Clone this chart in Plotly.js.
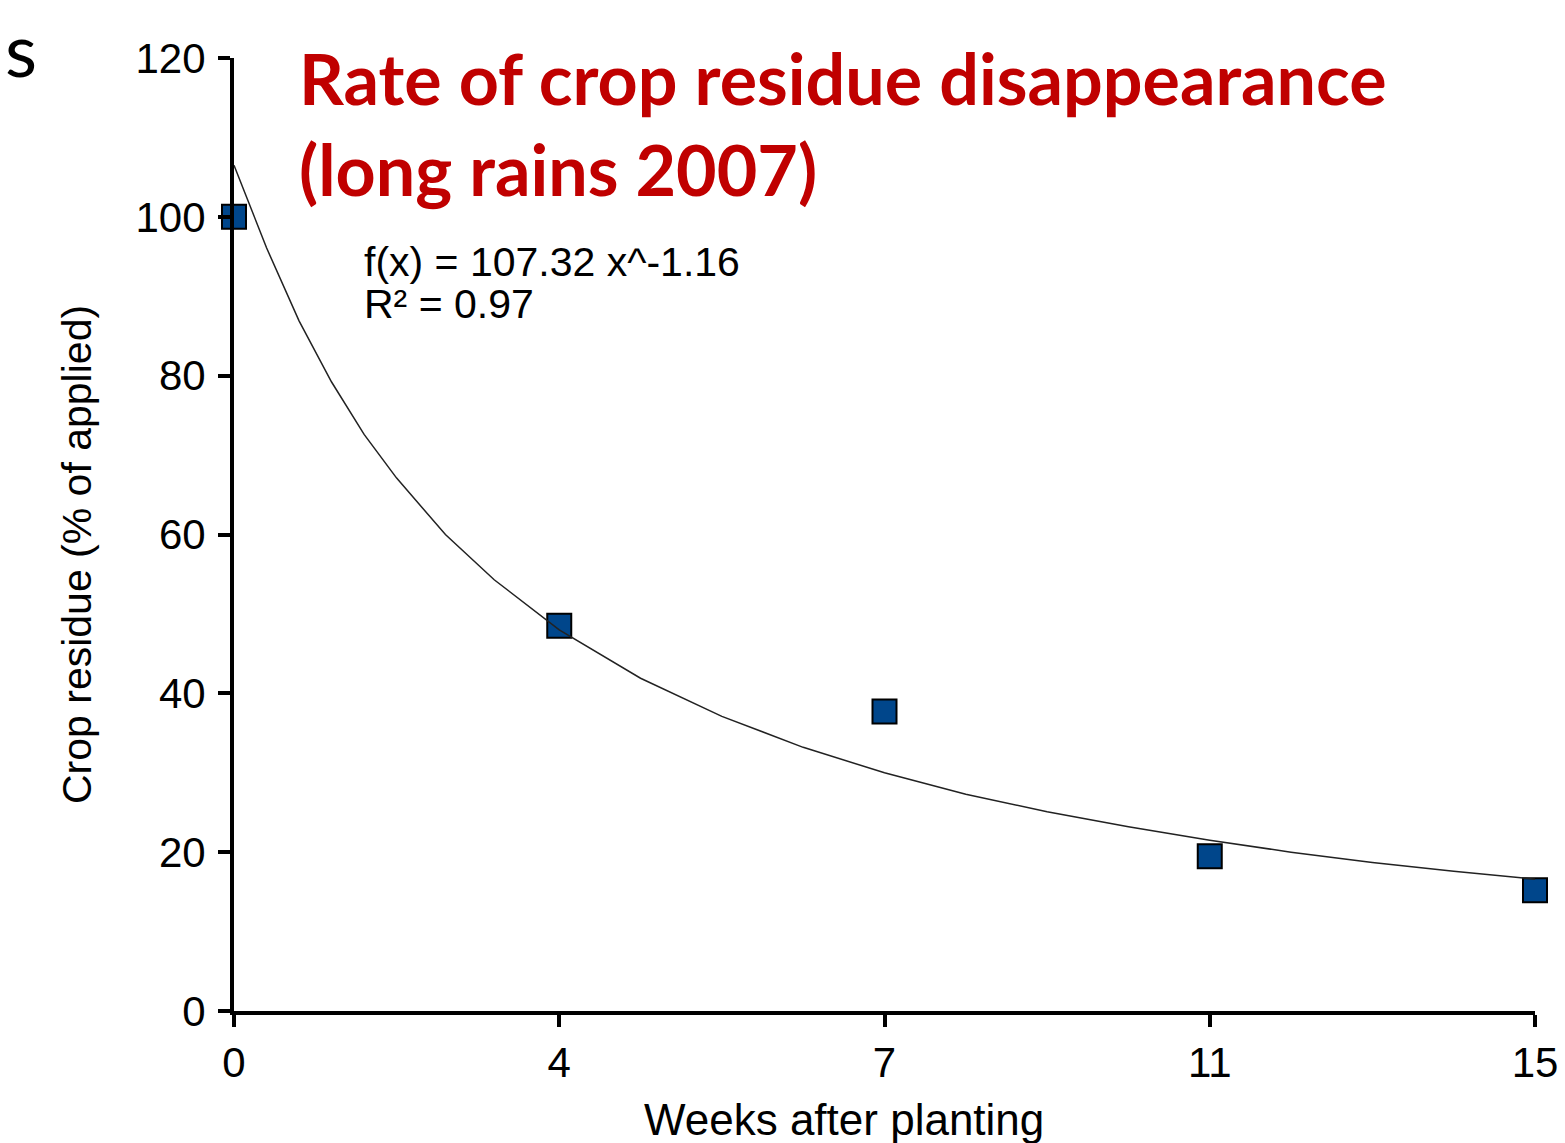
<!DOCTYPE html>
<html>
<head>
<meta charset="utf-8">
<script src="https://cdn.plot.ly/plotly-3.0.1.min.js"></script>
<style>html,body{margin:0;padding:0;background:#fff;}#chart{width:1565px;height:1143px;}</style>
</head>
<body>
<div id="chart"></div>
<script>
// Observed data
const weeks = ['0', '4', '7', '11', '15'];
const weekIndex = [0, 1, 2, 3, 4];
const residue = [100, 48.5, 37.7, 19.5, 15.2];

// Fitted power trend line (positions in category index)
const trendIndex = [0, 0.1, 0.2, 0.3, 0.4, 0.5, 0.65, 0.8, 1.0, 1.25, 1.5, 1.75, 2.0, 2.25, 2.5, 2.75, 3.0, 3.25, 3.5, 3.75, 4.0];
const trendValue = [106.5, 96.1, 86.9, 79.2, 72.6, 67.1, 60.0, 54.3, 48.0, 41.9, 37.1, 33.2, 30.0, 27.3, 25.1, 23.2, 21.5, 20.0, 18.7, 17.6, 16.6];

const yTicks = [0, 20, 40, 60, 80, 100, 120];

const titleText = 'Rate of crop residue disappearance<br>(long rains 2007)';
const eqText = 'f(x) = 107.32 x^-1.16';
const r2Text = 'R² = 0.97';
const xTitle = 'Weeks after planting';
const yTitle = 'Crop residue (% of applied)';

const sans = 'Liberation Sans, Arial, sans-serif';
const axisFont = {family: sans, size: 42, color: '#000'};

const traces = [
  {
    x: weekIndex, y: residue, type: 'scatter', mode: 'markers',
    marker: {symbol: 'square', size: 24, color: '#00468b', line: {color: '#000', width: 2}},
    cliponaxis: false, showlegend: false, hoverinfo: 'skip'
  },
  {
    x: trendIndex, y: trendValue, type: 'scatter', mode: 'lines',
    line: {color: '#222', width: 1.5},
    cliponaxis: false, showlegend: false, hoverinfo: 'skip'
  }
];

const px = v => (v - 234) / 1301;      // pixel x -> paper x
const py = v => 1 - (v - 58) / 953;    // pixel y -> paper y

const layout = {
  width: 1565, height: 1143,
  margin: {l: 234, r: 30, t: 58, b: 132},
  paper_bgcolor: '#fff', plot_bgcolor: '#fff',
  showlegend: false,
  xaxis: {
    range: [0, 4],
    tickmode: 'array', tickvals: weekIndex, ticktext: weeks,
    showgrid: false, zeroline: false,
    showline: true, linecolor: '#000', linewidth: 4,
    ticks: 'outside', ticklen: 12, tickwidth: 4, tickcolor: '#000',
    tickfont: axisFont
  },
  yaxis: {
    range: [0, 120],
    tickmode: 'array', tickvals: yTicks,
    showgrid: false, zeroline: false,
    showline: true, linecolor: '#000', linewidth: 4,
    ticks: 'outside', ticklen: 12, tickwidth: 4, tickcolor: '#000',
    ticklabelstandoff: 4,
    tickfont: axisFont
  },
  annotations: [
    {text: titleText, xref: 'paper', yref: 'paper', x: px(297), y: py(124),
     xanchor: 'left', yanchor: 'middle', align: 'left', showarrow: false,
     font: {family: 'Lato, Carlito, sans-serif', size: 70, color: '#c00000', weight: 700}},
    {text: eqText, xref: 'paper', yref: 'paper', x: px(362), y: py(262),
     xanchor: 'left', yanchor: 'middle', showarrow: false,
     font: {family: sans, size: 41, color: '#000'}},
    {text: r2Text, xref: 'paper', yref: 'paper', x: px(362), y: py(304),
     xanchor: 'left', yanchor: 'middle', showarrow: false,
     font: {family: sans, size: 41, color: '#000'}},
    {text: xTitle, xref: 'paper', yref: 'paper', x: px(844), y: py(1119),
     xanchor: 'center', yanchor: 'middle', showarrow: false,
     font: {family: sans, size: 44, color: '#000'}},
    {text: yTitle, xref: 'paper', yref: 'paper', x: px(77), y: py(555),
     xanchor: 'center', yanchor: 'middle', textangle: -90, showarrow: false,
     font: {family: sans, size: 41, color: '#000'}},
    {text: 's', xref: 'paper', yref: 'paper', x: px(3), y: py(2),
     xanchor: 'left', yanchor: 'top', showarrow: false,
     font: {family: 'Lato, Carlito, sans-serif', size: 74, color: '#000'}}
  ]
};

Plotly.newPlot('chart', traces, layout, {displayModeBar: false, staticPlot: true});
</script>
</body>
</html>
